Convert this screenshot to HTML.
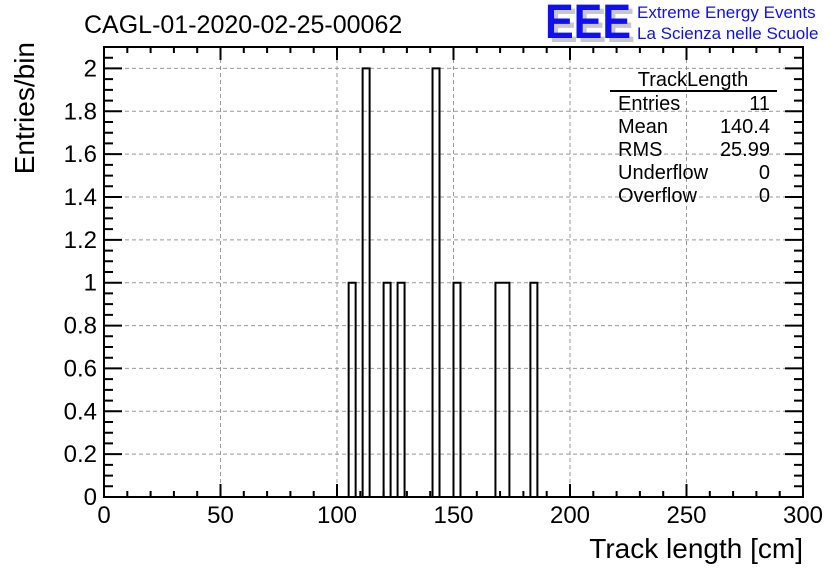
<!DOCTYPE html>
<html><head><meta charset="utf-8"><style>
body{margin:0;background:#fff;}
svg{display:block;font-family:"Liberation Sans",sans-serif;}
</style></head><body>
<svg id="chart" width="836" height="572" viewBox="0 0 836 572">
<rect width="836" height="572" fill="#fff"/>
<text x="84" y="33" font-size="25">CAGL-01-2020-02-25-00062</text>
<g>
<text x="549" y="42" font-size="48" font-weight="bold" fill="#c8c8c8" textLength="86" lengthAdjust="spacingAndGlyphs">EEE</text>
<text x="545" y="38" font-size="48" font-weight="bold" fill="#1010ee" textLength="86" lengthAdjust="spacingAndGlyphs">EEE</text>
<text x="637" y="18" font-size="17" fill="#1010ee">Extreme Energy Events</text>
<text x="637" y="39" font-size="17" fill="#1010ee">La Scienza nelle Scuole</text>
</g>
<g id="grid"></g>
<g id="bars"></g>
<g id="axes"></g>
<text x="803" y="558" font-size="28" text-anchor="end">Track length [cm]</text>
<text transform="translate(34,42) rotate(-90)" x="0" y="0" font-size="28" text-anchor="end">Entries/bin</text>
<g font-size="20">
<text x="693" y="86" text-anchor="middle">TrackLength</text>
<line x1="610" y1="91" x2="777" y2="91" stroke="#000" stroke-width="2"/>
<text x="618" y="110">Entries</text><text x="770" y="110" text-anchor="end">11</text>
<text x="618" y="133">Mean</text><text x="770" y="133" text-anchor="end">140.4</text>
<text x="618" y="156">RMS</text><text x="770" y="156" text-anchor="end">25.99</text>
<text x="618" y="179">Underflow</text><text x="770" y="179" text-anchor="end">0</text>
<text x="618" y="202">Overflow</text><text x="770" y="202" text-anchor="end">0</text>
</g>
</svg>
<script>
const binStarts=[105,111,120,126,141,150,168,171,183];
const binCounts=[1,2,1,1,2,1,1,1,1];
const binWidth=3;
const xTickLabels=["0","50","100","150","200","250","300"];
const yTickLabels=["0","0.2","0.4","0.6","0.8","1","1.2","1.4","1.6","1.8","2"];
const X0=104,X1=803,Y0=497,Y1=47,XMAX=300,YMAX=2.1;
const sx=v=>X0+(X1-X0)*v/XMAX;
const sy=v=>Y0-(Y0-Y1)*v/YMAX;
const NS="http://www.w3.org/2000/svg";
function mk(tag,attrs,parent){const e=document.createElementNS(NS,tag);for(const k in attrs)e.setAttribute(k,attrs[k]);parent.appendChild(e);return e;}
const grid=document.getElementById('grid'),bars=document.getElementById('bars'),axes=document.getElementById('axes');
xTickLabels.forEach((t,i)=>{const x=sx(i*50);
 const l=mk('line',{x1:x,y1:Y0,x2:x,y2:Y1,stroke:'#999','stroke-dasharray':'4,3'},grid);
 
 const tx=mk('text',{x:x,y:523,'font-size':24,'text-anchor':'middle'},axes);tx.textContent=t;
 });
yTickLabels.forEach((t,i)=>{const y=sy(i*0.2);
 const l=mk('line',{x1:X0,y1:y,x2:X1,y2:y,stroke:'#999','stroke-dasharray':'4,3'},grid);
 
 const tx=mk('text',{x:97,y:y+8,'font-size':24,'text-anchor':'end'},axes);tx.textContent=t;
 });
// full histogram step outline
const nb=XMAX/binWidth, counts=new Array(nb).fill(0);
binStarts.forEach((b,i)=>{counts[Math.round(b/binWidth)]+=binCounts[i];});
let p=`M${sx(0)},${Y0}`;
for(let k=0;k<nb;k++){p+=`V${sy(counts[k])}H${sx((k+1)*binWidth)}`;}
p+=`V${Y0}`;
const hp=mk('path',{d:p,fill:'none',stroke:'#000','stroke-width':2},bars);


mk('rect',{x:X0,y:Y1,width:X1-X0,height:Y0-Y1,fill:'none',stroke:'#000','stroke-width':2},axes);
let d='';
for(let v=0;v<=300;v+=10){const x=sx(v),L=v%50===0?13:6;d+=`M${x},${Y0}v${-L}M${x},${Y1}v${L}`;}
for(let k=0;k<=42;k++){const y=sy(k*0.05),L=k%4===0?18:9;d+=`M${X0},${y}h${L}M${X1},${y}h${-L}`;}
mk('path',{d:d,stroke:'#000','stroke-width':2,fill:'none'},axes);
</script>
</body></html>
